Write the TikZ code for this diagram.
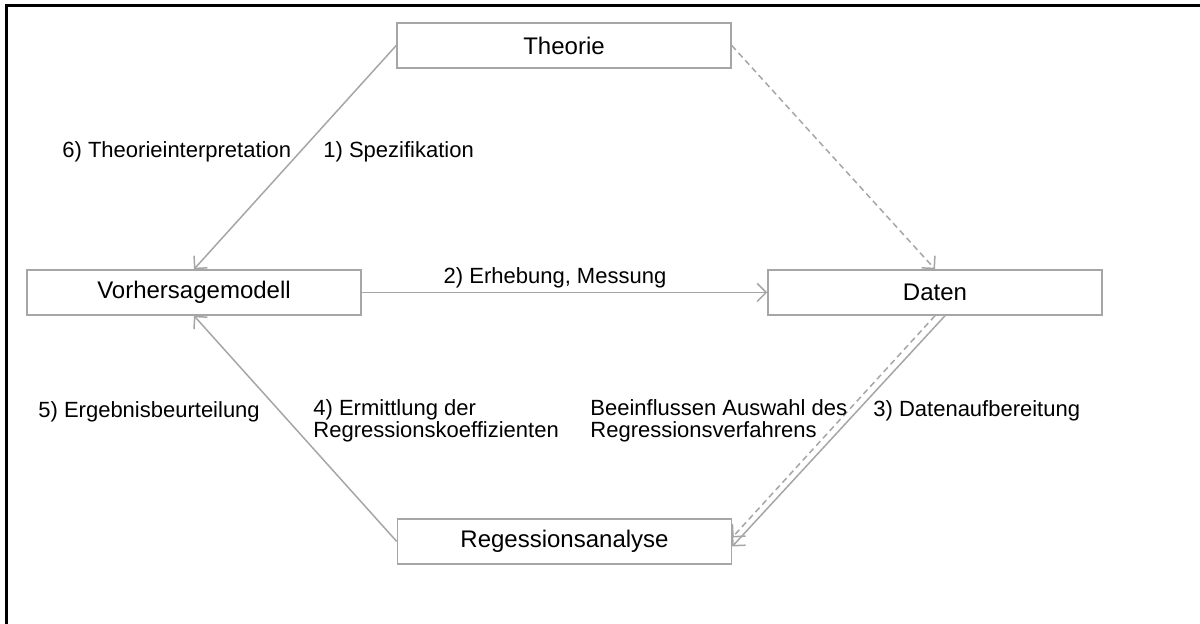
\documentclass[tikz,border=0pt]{standalone}
\usepackage{fontspec}
\setmainfont{Liberation Sans}
\usetikzlibrary{arrows.meta,calc}
\definecolor{linegray}{RGB}{166,166,166}

\begin{document}
\begin{tikzpicture}[x=0.5pt,y=0.5pt,
    box/.style={draw=linegray,line width=0.75pt,minimum width=167pt,minimum height=22.5pt,inner sep=0pt,font=\fontsize{12}{14}\selectfont},
    lbl/.style={anchor=west,inner sep=0pt,align=left,font=\fontsize{11}{11.3}\selectfont},
    flow/.style={draw=linegray,line width=0.75pt,-{Straight Barb[length=4.5pt,width=9pt]}}]
        \useasboundingbox (0,0) rectangle (1200,624);
        \draw[line width=1.5pt] (6,0) -- (6,618) -- (1200,618);
        \node[box] (theorie) at (564,578.5) {Theorie};
        \node[box] (modell) at (194,331.5) {Vorhersagemodell};
        \node[box] (daten) at (935,331.5) {Daten};
        \node[box] (analyse) at (564.5,82.5) {Regessionsanalyse};
        \draw[flow] (theorie.west) -- (modell.north);
        \draw[flow,dash pattern=on 3pt off 2pt] (theorie.east) -- (daten.north);
        \draw[flow] (modell.east) -- (daten.west);
        \draw[flow] ([xshift=5pt]daten.south) -- ([yshift=-2.5pt]analyse.east);
        \draw[flow,dash pattern=on 3pt off 2pt] (daten.south) -- ([yshift=2pt]analyse.east);
        \draw[flow] (analyse.west) -- (modell.south);
        \node[lbl] (interp) at (62,472) {6) Theorieinterpretation};
        \node[lbl] (spez) at (323,472) {1) Spezifikation};
        \node[lbl,anchor=center] (erheb) at (555,346) {2) Erhebung, Messung};
        \node[lbl] (beurt) at (38,212) {5) Ergebnisbeurteilung};
        \node[lbl] (ermitt) at (313,203) {4) Ermittlung der\\Regressionskoeffizienten};
        \node[lbl] (auswahl) at (590,203) {Beeinflussen Auswahl des\\Regressionsverfahrens};
        \node[lbl] (aufber) at (873,213) {3) Datenaufbereitung};
\end{tikzpicture}
\end{document}
